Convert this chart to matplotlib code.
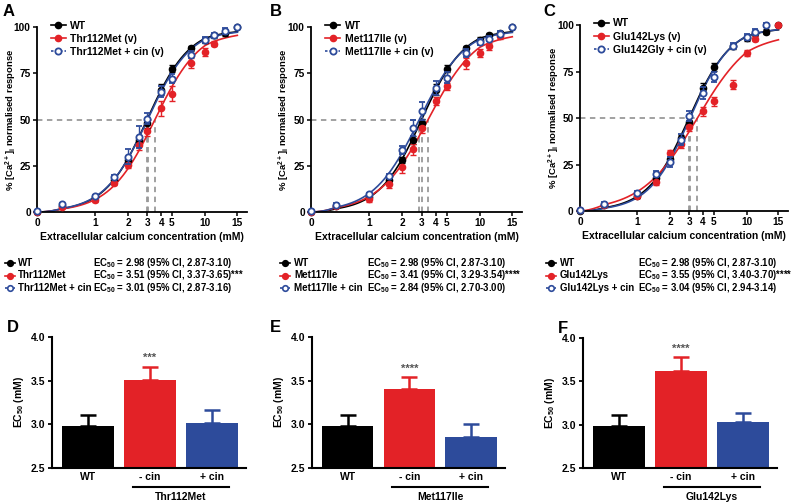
import numpy as np
import matplotlib
matplotlib.use('Agg')
import matplotlib.pyplot as plt
from matplotlib.lines import Line2D
from matplotlib.ticker import NullLocator
import matplotlib.transforms as mtransforms

plt.rcParams['font.family'] = 'Liberation Sans'
plt.rcParams['font.weight'] = 'bold'
plt.rcParams['axes.labelweight'] = 'bold'
plt.rcParams['mathtext.fontset'] = 'custom'
plt.rcParams['mathtext.bf'] = 'Liberation Sans:bold'
plt.rcParams['mathtext.rm'] = 'Liberation Sans:bold'
plt.rcParams['mathtext.default'] = 'bf'

# ---- data ----
conc = [0, 0.5, 1, 1.5, 2, 2.5, 3, 4, 5, 7.5, 10, 11.4, 13.1, 15]
nan = np.nan

wt_resp = [0, 3, 8, 17.5, 28, 39, 48, 66, 77.5, 88.5, 93, 95.5, 96.5, 100]
wt_err = [0.3, 0.5, 1, 1, 1.5, 2, 2.5, 3, 2, 1.5, 1.5, 1.5, 1.5, 0.5]

thr_resp = [0, 2.5, 6.5, 15.5, 25.5, 36, 44, 56, 64, 80.5, 86.5, 91, nan, nan]
thr_err = [0.3, 0.5, 1, 1, 1.5, 2.5, 3, 4, 4, 2.5, 2, 1.5, 0, 0]
thr_cin_resp = [0.5, 4.3, 8.4, 19, 30, 40.5, 50.5, 65, 72, 85, 93, 95.5, 97.8, 100]
thr_cin_err = [0.3, 0.7, 1, 1.2, 4, 6, 3, 3, 2.5, 2, 1.5, 1.5, 1.5, 0.5]

met_resp = [0, 3, 7, 15, 24.5, 34, 45.5, 60, 68, 80.5, 86, 89.5, 95, nan]
met_err = [0.3, 0.5, 1.5, 2, 3.5, 3, 3, 2, 2, 3, 2, 2, 1.5, 0]
met_cin_resp = [0.5, 4, 9.5, 19.5, 33.5, 45.5, 54.5, 67, 72.5, 86, 92, 93.7, 96.4, 100]
met_cin_err = [0.3, 0.7, 1, 1, 2, 4.5, 5, 4, 3, 2, 1.5, 1.5, 1.5, 0.5]

glu_resp = [0.5, 3, 8, 15.5, 31, 36, 45, 53.5, 59, 68, 85, 92.7, nan, 100]
glu_err = [0.3, 0.5, 1, 1.5, 2, 2, 2, 2.5, 2.5, 2.5, 1.5, 1.5, 0, 0.5]
glu_cin_resp = [0.5, 3.9, 9.8, 20, 26.3, 38.4, 51, 63.4, 72.1, 88.8, 93.6, 96.2, 100, nan]
glu_cin_err = [0.3, 0.7, 1, 1.5, 2.5, 3, 2.5, 3, 2.5, 1.5, 1.5, 1.5, 1, 0]

mutants = ['Thr112Met', 'Met117Ile', 'Glu142Lys']
cin_legend = ['Thr112Met + cin (v)', 'Met117Ile + cin (v)', 'Glu142Gly + cin (v)']

ec50_wt = [2.98, 2.87, 3.10]
ec50_mut = [[3.51, 3.37, 3.65], [3.41, 3.29, 3.54], [3.55, 3.40, 3.70]]
ec50_cin = [[3.01, 2.87, 3.16], [2.84, 2.70, 3.00], [3.04, 2.94, 3.14]]
stars = ['***', '****', '****']

hill_wt = 2.25
hill_mut = [2.1, 1.95, 1.7]
hill_cin = [2.2, 2.1, 2.3]

bar_labels = ['WT', '- cin', '+ cin']
bar_vals = [[2.98, 3.51, 3.01], [2.98, 3.41, 2.85], [2.98, 3.62, 3.03]]
bar_top = [[3.11, 3.66, 3.16], [3.11, 3.54, 3.00], [3.11, 3.78, 3.14]]

BLACK = '#000000'
RED = '#e32227'
BLUE = '#2d4b9b'
GREY = '#9a9a9a'


# x axis: log between 0.5 and 10, stretched segments at both ends
def fwd(x):
    x = np.asarray(x, float)
    lo = -0.524 + x / 0.5 * 0.223
    mid = np.log10(np.clip(x, 0.5, 10))
    hi = 1 + (x - 10) / 5 * 0.292
    return np.where(x < 0.5, lo, np.where(x > 10, hi, mid))


def inv(y):
    y = np.asarray(y, float)
    lo = (y + 0.524) / 0.223 * 0.5
    mid = 10 ** np.clip(y, -0.301, 1)
    hi = 10 + (y - 1) / 0.292 * 5
    return np.where(y < -0.301, lo, np.where(y > 1, hi, mid))


def hill(x, ec50, n):
    x = np.asarray(x, float)
    return 100 * x ** n / (ec50 ** n + x ** n)


W, H = 800, 504
fig = plt.figure(figsize=(8, 5.04), dpi=100)


def rect(l, r, t, b):
    return [l / W, 1 - b / H, (r - l) / W, (b - t) / H]


def px(x, y):
    return x / W, 1 - y / H


top_rects = [rect(37, 247, 27, 212), rect(311, 522, 27, 212), rect(580, 788, 25, 211)]
bot_rects = [rect(52, 246, 337, 468), rect(312, 505, 337, 468), rect(583, 777, 338, 468)]

mut_data = [(thr_resp, thr_err, thr_cin_resp, thr_cin_err),
            (met_resp, met_err, met_cin_resp, met_cin_err),
            (glu_resp, glu_err, glu_cin_resp, glu_cin_err)]

xs = np.linspace(0, 15, 500)

for i in range(3):
    ax = fig.add_axes(top_rects[i])
    ax.set_xscale('function', functions=(fwd, inv))
    ax.set_xlim(0, 16.5)
    ax.set_ylim(0, 100)

    m_resp, m_err, c_resp, c_err = mut_data[i]

    # dashed EC50 guides
    ecs = [ec50_wt[0], ec50_mut[i][0], ec50_cin[i][0]]
    ax.plot([0, max(ecs)], [50, 50], color=GREY, lw=1.3, dashes=(3, 2.5), zorder=1)
    for e in ecs:
        ax.plot([e, e], [0, 50], color=GREY, lw=1.3, dashes=(3, 2.5), zorder=1)

    # fitted curves
    ax.plot(xs, hill(xs, ec50_wt[0], hill_wt), color=BLACK, lw=1.2, zorder=2)
    ax.plot(xs, hill(xs, ec50_mut[i][0], hill_mut[i]), color=RED, lw=1.2, zorder=2)
    ax.plot(xs, hill(xs, ec50_cin[i][0], hill_cin[i]), color=BLUE, lw=1.2, zorder=2)

    # points
    ax.errorbar(conc, wt_resp, yerr=wt_err, fmt='o', color=BLACK, ms=4.5,
                capsize=2, elinewidth=1, capthick=1, clip_on=False, zorder=3)
    ax.errorbar(conc, m_resp, yerr=m_err, fmt='o', color=RED, ms=4.5,
                capsize=2, elinewidth=1, capthick=1, clip_on=False, zorder=3)
    ax.errorbar(conc, c_resp, yerr=c_err, fmt='o', color=BLUE, mfc='white', mew=1.3,
                ms=4.5, capsize=2, elinewidth=1, capthick=1, clip_on=False, zorder=4)

    ax.set_xticks([0, 1, 2, 3, 4, 5, 10, 15])
    ax.set_xticklabels(['0', '1', '2', '3', '4', '5', '10', '15'])
    ax.xaxis.set_minor_locator(NullLocator())
    ax.set_yticks([0, 25, 50, 75, 100])
    ax.tick_params(labelsize=7.3, length=3, width=1.1, pad=1.5)
    for s in ['top', 'right']:
        ax.spines[s].set_visible(False)
    for s in ['left', 'bottom']:
        ax.spines[s].set_linewidth(1.3)
    ax.set_xlabel('Extracellular calcium concentration (mM)', fontsize=7.5, labelpad=3)
    ax.set_ylabel(r'% [Ca$^{2+}$]$_{i}$ normalised response', fontsize=6.8)
    ax.yaxis.set_label_coords(-0.088, 0.5)

    handles = [Line2D([], [], color=BLACK, marker='o', ms=4.5, lw=1.2),
               Line2D([], [], color=RED, marker='o', ms=4.5, lw=1.2),
               Line2D([], [], color=BLUE, marker='o', mfc='white', mew=1.3, ms=4.5,
                      lw=1.2, ls=(0, (1.5, 1.2)))]
    ax.legend(handles, ['WT', mutants[i] + ' (v)', cin_legend[i]], loc='upper left',
              bbox_to_anchor=(0.065, 1.035), frameon=False, fontsize=7.5,
              handlelength=1.5, handletextpad=0.4, labelspacing=0.3,
              borderpad=0, borderaxespad=0)

    # EC50 summary text below
    hx = [5, 280, 546][i]
    tx = [18, 294, 560][i]
    ex = [93, 367, 638][i]
    rows = [('WT', BLACK, BLACK, ec50_wt, ''),
            (mutants[i], RED, RED, ec50_mut[i], stars[i]),
            (mutants[i] + ' + cin', BLUE, 'white', ec50_cin[i], '')]
    for j, (name, col, fc, ec, st) in enumerate(rows):
        y = 263 + 12.5 * j
        x0, y0 = px(hx, y)
        x1, _ = px(hx + 10, y)
        if j == 2:
            fig.add_artist(Line2D([x0, x1], [y0, y0], color=col, lw=1.2,
                                  ls=(0, (1.5, 1.2)), transform=fig.transFigure))
        else:
            fig.add_artist(Line2D([x0, x1], [y0, y0], color=col, lw=1.2,
                                  transform=fig.transFigure))
        fig.add_artist(Line2D([(x0 + x1) / 2], [y0], color=col, marker='o', ms=4,
                              mfc=fc, mew=1.2, transform=fig.transFigure))
        fig.text(*px(tx, y), name, fontsize=7, va='center', ha='left')
        fig.text(*px(ex, y), 'EC$_{50}$ = %.2f (95%% CI, %.2f-%.2f)%s' % (ec[0], ec[1], ec[2], st),
                 fontsize=6.9, va='center', ha='left')

# bar panels
for i in range(3):
    ax = fig.add_axes(bot_rects[i])
    xb = np.arange(3)
    cols = [BLACK, RED, BLUE]
    vals = bar_vals[i]
    errs = [t - v for t, v in zip(bar_top[i], vals)]
    ax.bar(xb, [v - 2.5 for v in vals], bottom=2.5, width=0.83, color=cols, zorder=2)
    for k in range(3):
        ax.errorbar(xb[k], vals[k], yerr=[[0], [errs[k]]], color=cols[k], capsize=6,
                    elinewidth=1.8, capthick=1.8, zorder=1)
    ax.text(1, bar_top[i][1] + 0.04, stars[i], ha='center', va='bottom', fontsize=8,
            color='#555555')
    ax.set_xlim(-0.58, 2.55)
    ax.set_ylim(2.5, 4.0)
    ax.set_yticks([2.5, 3.0, 3.5, 4.0])
    ax.set_xticks(xb)
    ax.set_xticklabels(bar_labels)
    ax.tick_params(axis='x', length=0, labelsize=7.5, pad=3)
    ax.tick_params(axis='y', length=3, width=1.3, labelsize=7.5, pad=2)
    for s in ['top', 'right']:
        ax.spines[s].set_visible(False)
    for s in ['left', 'bottom']:
        ax.spines[s].set_linewidth(1.5)
    ax.set_ylabel('EC$_{50}$ (mM)', fontsize=7.5, labelpad=3)
    trans = mtransforms.blended_transform_factory(ax.transData, ax.transAxes)
    ax.plot([0.72, 2.28], [-0.145, -0.145], color=BLACK, lw=1.5, transform=trans,
            clip_on=False)
    ax.text(1.5, -0.225, mutants[i], transform=trans, ha='center', va='center',
            fontsize=7.5)

# panel letters
for letter, (x, y) in zip('ABCDEF', [(3, 4), (270, 4), (543, 4), (7, 320), (270, 320), (558, 321)]):
    fig.text(*px(x, y), letter, fontsize=12, fontweight='bold', ha='left', va='top')

fig.savefig('out.png', dpi=100)
